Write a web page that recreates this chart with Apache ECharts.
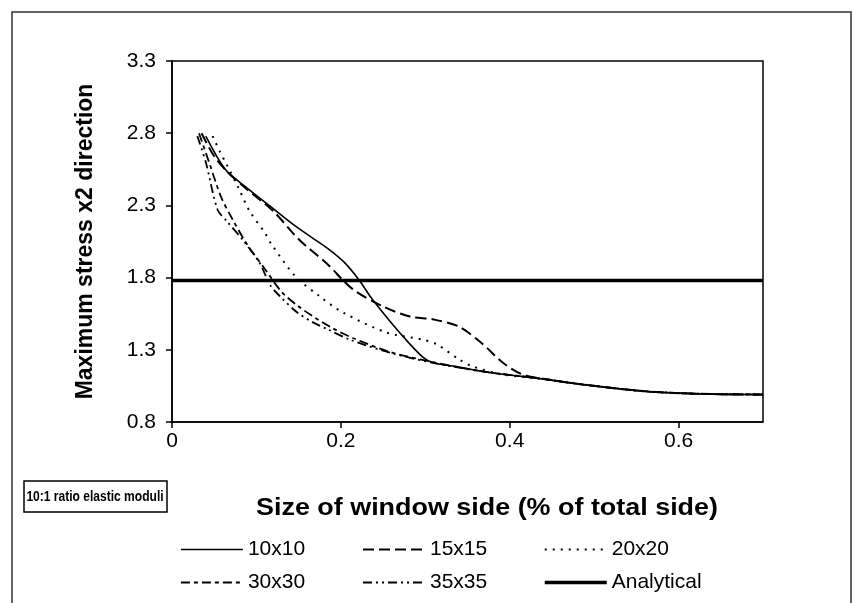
<!DOCTYPE html>
<html><head><meta charset="utf-8">
<script src="https://cdn.jsdelivr.net/npm/echarts@6/dist/echarts.min.js"></script>
<style>html,body{margin:0;padding:0;background:#fff}#c{width:855px;height:603px}</style>
</head><body><div id="c"></div>
<script>
const xTicks = [0, 0.2, 0.4, 0.6];
const x10 = [0.04,0.055,0.066,0.089,0.115,0.143,0.165,0.187,0.205,0.222,0.236,0.255,0.274,0.297,0.31,0.34,0.368,0.4,0.43,0.486,0.53,0.566,0.625,0.7];
const y10 = [2.78,2.62,2.53,2.42,2.3,2.17,2.08,1.99,1.9,1.78,1.66,1.52,1.39,1.25,1.21,1.18,1.15,1.125,1.105,1.06,1.03,1.01,0.995,0.99];
const x15 = [0.035,0.05,0.066,0.089,0.12,0.151,0.183,0.214,0.25,0.282,0.31,0.34,0.368,0.392,0.415,0.45,0.486,0.53,0.566,0.625,0.7];
const y15 = [2.8,2.64,2.53,2.41,2.26,2.06,1.9,1.72,1.6,1.53,1.51,1.46,1.34,1.21,1.13,1.09,1.06,1.03,1.01,0.995,0.99];
const x20 = [0.048,0.057,0.065,0.078,0.092,0.11,0.118,0.146,0.175,0.202,0.254,0.297,0.313,0.341,0.356,0.39,0.43,0.486,0.53,0.566,0.625,0.7];
const y20 = [2.78,2.67,2.58,2.43,2.26,2.11,2.03,1.81,1.67,1.56,1.42,1.37,1.34,1.23,1.185,1.13,1.105,1.06,1.03,1.01,0.995,0.99];
const x30 = [0.032,0.045,0.058,0.072,0.09,0.11,0.13,0.15,0.17,0.19,0.215,0.258,0.309,0.368,0.43,0.486,0.53,0.566,0.625,0.7];
const y30 = [2.8,2.58,2.36,2.2,2.02,1.86,1.7,1.6,1.52,1.45,1.38,1.285,1.215,1.15,1.105,1.06,1.03,1.01,0.995,0.99];
const x35 = [0.03,0.04,0.054,0.065,0.084,0.104,0.116,0.128,0.148,0.167,0.185,0.211,0.258,0.309,0.368,0.43,0.486,0.53,0.566,0.625,0.7];
const y35 = [2.78,2.6,2.27,2.19,2.06,1.9,1.75,1.67,1.56,1.49,1.44,1.37,1.28,1.21,1.15,1.105,1.06,1.03,1.01,0.995,0.99];
const xA = [0, 0.7];
const yA = [1.78, 1.78];

const zip = (xs, ys) => xs.map((x, i) => [x, ys[i]]);
const FONT = "'Liberation Sans', Arial, sans-serif";
const chart = echarts.init(document.getElementById('c'), null, {renderer: 'canvas'});

function ser(name, xs, ys, type, width) {
  return {name, type: 'line', data: zip(xs, ys), showSymbol: false, symbol: 'none',
    smooth: 0.3, animation: false,
    itemStyle: {color: 'rgba(0,0,0,0)', borderWidth: 0},
    lineStyle: {color: '#000', width: width || 1.6, type: type}};
}
const legendText = {fontFamily: FONT, fontSize: 21, color: '#000'};
function leg(left, data) {
  return {left, top: 534, orient: 'vertical', itemWidth: 62, itemHeight: 14, itemGap: 12,
    textStyle: legendText, data, selectedMode: false,
    lineStyle: {width: 'inherit'},
    itemStyle: {color: 'rgba(0,0,0,0)', borderWidth: 0}};
}
chart.setOption({
  backgroundColor: '#fff',
  animation: false,
  graphic: [
    {type: 'rect', shape: {x: 12, y: 12, width: 839, height: 600}, style: {fill: 'none', stroke: '#333', lineWidth: 1.5}, z: 0},
    {type: 'rect', shape: {x: 24, y: 481, width: 143, height: 31}, style: {fill: '#fff', stroke: '#000', lineWidth: 1.5}},
    {type: 'text', x: 95, y: 497, scaleX: 0.86, style: {text: '10:1 ratio elastic moduli', fontFamily: FONT, fontWeight: 'bold', fontSize: 14, fill: '#000', align: 'center', verticalAlign: 'middle'}},
    {type: 'text', x: 487, y: 509, scaleX: 1.17, style: {text: 'Size of window side (% of total side)', fontFamily: FONT, fontWeight: 'bold', fontSize: 23, fill: '#000', align: 'center', verticalAlign: 'middle'}}
  ],
  grid: {left: 172, right: 92, top: 61, bottom: 181, show: true, borderColor: '#000', borderWidth: 1.5, backgroundColor: 'transparent'},
  xAxis: {type: 'value', min: 0, max: 0.7, interval: 0.2,
    axisLine: {lineStyle: {color: '#000', width: 1.5}},
    axisTick: {show: true, length: 6, lineStyle: {color: '#000', width: 1.5}, customValues: xTicks},
    axisLabel: {customValues: xTicks, margin: 9, fontFamily: FONT, fontSize: 21, color: '#000', formatter: v => v === 0 ? '0' : v.toFixed(1)},
    splitLine: {show: false}},
  yAxis: {type: 'value', min: 0.8, max: 3.3, interval: 0.5,
    name: 'Maximum stress x2 direction', nameLocation: 'middle', nameGap: 75, nameRotate: 90,
    nameTextStyle: {fontFamily: FONT, fontWeight: 'bold', fontSize: 23, color: '#000'},
    axisLine: {show: true, lineStyle: {color: '#000', width: 1.5}},
    axisTick: {show: true, length: 6, lineStyle: {color: '#000', width: 1.5}},
    axisLabel: {margin: 16, fontFamily: FONT, fontSize: 21, color: '#000', formatter: v => v.toFixed(1)},
    splitLine: {show: false}},
  legend: [leg(175, ['10x10', '30x30']), leg(357, ['15x15', '35x35']), leg(538, ['20x20', 'Analytical'])],
  series: [
    ser('10x10', x10, y10, 'solid', 1.6),
    ser('15x15', x15, y15, [11, 5], 2),
    ser('20x20', x20, y20, [2, 6], 2),
    ser('30x30', x30, y30, [9, 4, 4, 4], 1.8),
    ser('35x35', x35, y35, [9, 4, 2, 4, 2, 4], 1.8),
    Object.assign(ser('Analytical', xA, yA, 'solid', 3.5), {smooth: false})
  ]
});
</script></body></html>
